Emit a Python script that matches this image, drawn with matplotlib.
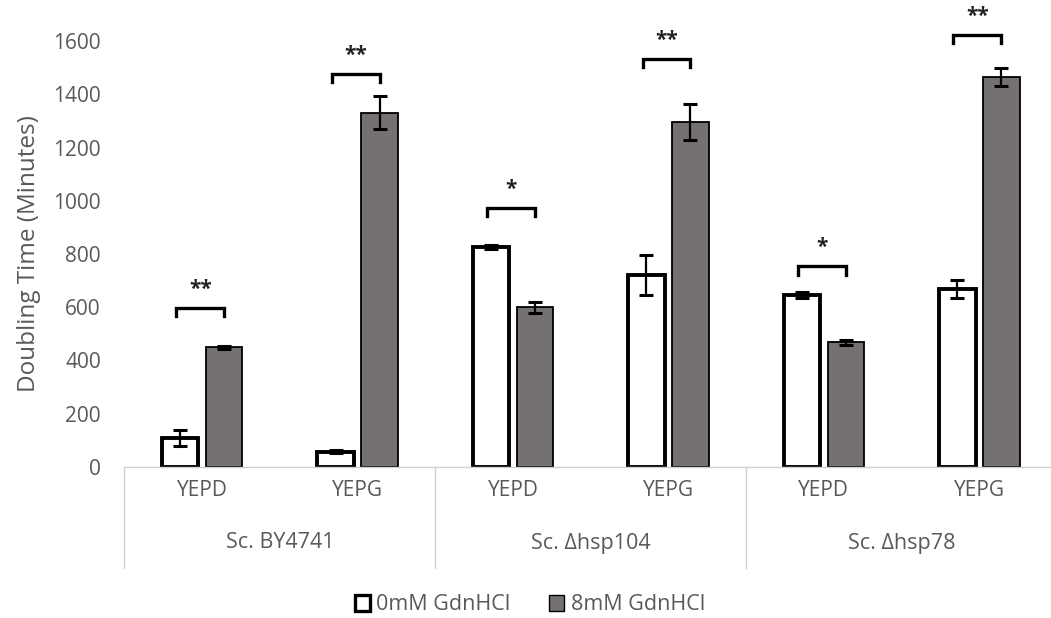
import matplotlib.pyplot as plt
import matplotlib.transforms as mtransforms
from matplotlib.patches import Patch
import numpy as np

plt.rcParams['font.family'] = ['Open Sans', 'DejaVu Sans']

media = ['YEPD', 'YEPG', 'YEPD', 'YEPG', 'YEPD', 'YEPG']
strains = ['Sc. BY4741', 'Sc. \u0394hsp104', 'Sc. \u0394hsp78']

dt_0mM = [110, 58, 825, 720, 645, 668]
err_0mM = [30, 5, 8, 75, 12, 35]
dt_8mM = [450, 1330, 600, 1295, 468, 1465]
err_8mM = [5, 62, 20, 68, 10, 35]

sig = ['**', '**', '*', '**', '*', '**']
bracket_lvl = [598, 1477, 973, 1533, 755, 1624]

txt = '#595959'
gray = '#767171'

fig = plt.figure(figsize=(10.51, 6.18), dpi=100)
ax = fig.add_axes([124.5/1051, 1-467/618, (1057-124.5)/1051, (467-41)/618])

x = np.arange(len(media))
w = 0.235
off = 0.1415

ax.bar(x-off, dt_0mM, w, color='white', edgecolor='black', linewidth=2.8, zorder=2)
ax.bar(x+off, dt_8mM, w, color=gray, edgecolor='black', linewidth=1.3, zorder=2)
ax.errorbar(x-off, dt_0mM, yerr=err_0mM, fmt='none', ecolor='black', elinewidth=1.6,
            capsize=5, capthick=2.2, zorder=3)
ax.errorbar(x+off, dt_8mM, yerr=err_8mM, fmt='none', ecolor='black', elinewidth=1.6,
            capsize=5, capthick=2.2, zorder=3)

# significance brackets
for i in range(len(x)):
    x0 = x[i]-off-0.025
    x1 = x[i]+off
    yb = bracket_lvl[i]
    ax.plot([x0, x0, x1, x1], [yb-32, yb, yb, yb-32], color='black', lw=2.4,
            clip_on=False, solid_joinstyle='miter', zorder=4)
    ax.text((x0+x1)/2, yb+30, sig[i], ha='center', va='bottom', fontsize=15,
            fontweight='bold', color='#222222', clip_on=False)

ax.set_xlim(-0.5, len(media)-0.5)
ax.set_ylim(0, 1600)
ax.set_yticks(np.arange(0, 1601, 200))
ax.tick_params(axis='y', length=0, labelsize=15, labelcolor=txt, pad=17)
ax.tick_params(axis='x', length=0, labelsize=15, labelcolor=txt, pad=9)
ax.set_xticks(x)
ax.set_xticklabels(media)
for s in ['top', 'right', 'left']:
    ax.spines[s].set_visible(False)
ax.spines['bottom'].set_color('#d0d0d0')
ax.spines['bottom'].set_linewidth(1.0)

ax.set_ylabel('Doubling Time (Minutes)', fontsize=17.5, color=txt, labelpad=9)

# two-level category axis
trans = mtransforms.blended_transform_factory(ax.transData, ax.transAxes)
for b in [-0.5, 1.5, 3.5, 5.5]:
    ax.plot([b, b], [0, -101/426], transform=trans, color='#d0d0d0', lw=1.0, clip_on=False)
for g in range(len(strains)):
    ax.text(2*g+0.5, -76/426, strains[g], transform=trans, ha='center', va='center',
            fontsize=15.5, color=txt)

handles = [Patch(facecolor='white', edgecolor='black', linewidth=2.4, label='0mM GdnHCl'),
           Patch(facecolor=gray, edgecolor='black', linewidth=1.0, label='8mM GdnHCl')]
fig.legend(handles=handles, loc='center', bbox_to_anchor=(530/1051, 1-605/618), ncol=2,
           frameon=False, fontsize=15.5, labelcolor=txt, handlelength=0.7, handleheight=0.7,
           handletextpad=0.3, columnspacing=1.8)

fig.savefig('out.png', dpi=100)
